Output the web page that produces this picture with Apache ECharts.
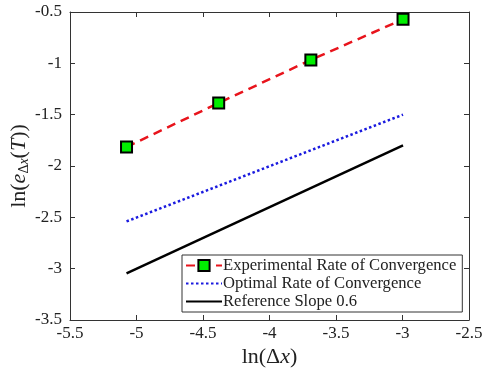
<!DOCTYPE html>
<html>
<head>
<meta charset="utf-8">
<script src="https://cdn.jsdelivr.net/npm/echarts@6/dist/echarts.min.js"></script>
<style>
  html, body { margin: 0; padding: 0; background: #fff; }
  #main { width: 484px; height: 372px; }
</style>
</head>
<body>
<div id="main"></div>
<script>
// ln(dx) for the four grids, and the measured ln(error)
const logDx = [-5.075, -4.382, -3.689, -2.996];
const experimental = [-1.815, -1.386, -0.967, -0.571];
// straight guide lines, given by their two end values
const optimalEnds = [-2.54, -1.50];
const referenceEnds = [-3.045, -1.798];
const xTicks = [-5.5, -5, -4.5, -4, -3.5, -3, -2.5];
const yTicks = [-3.5, -3, -2.5, -2, -1.5, -1, -0.5];

const serif = 'Liberation Serif';
const axisColor = '#333';
const textColor = '#222';

var chart = echarts.init(document.getElementById('main'), null, { renderer: 'canvas' });

const pair = (ends) => [[logDx[0], ends[0]], [logDx[logDx.length - 1], ends[1]]];

const baseX = {
  type: 'value', min: -5.5, max: -2.5, interval: 0.5,
  axisLine: { show: true, onZero: false, lineStyle: { color: axisColor, width: 1 } },
  axisTick: { show: true, inside: true, length: 5, lineStyle: { color: axisColor } },
  splitLine: { show: false }
};
const baseY = {
  type: 'value', min: -3.5, max: -0.5, interval: 0.5,
  axisLine: { show: true, onZero: false, lineStyle: { color: axisColor, width: 1 } },
  axisTick: { show: true, inside: true, length: 5, lineStyle: { color: axisColor } },
  splitLine: { show: false }
};

const nameRich = {
  a: { fontFamily: serif, fontSize: 22, color: textColor },
  i: { fontFamily: serif, fontSize: 22, fontStyle: 'italic', color: textColor },
  s: { fontFamily: serif, fontSize: 14, color: textColor, verticalAlign: 'bottom', padding: [10, 0, 0, 0] },
  si: { fontFamily: serif, fontSize: 14, fontStyle: 'italic', color: textColor, verticalAlign: 'bottom', padding: [10, 0, 0, 0] }
};

var option = {
  backgroundColor: '#fff',
  animation: false,
  grid: { left: 70, right: 15, top: 12, bottom: 52, containLabel: false, outerBoundsMode: 'none' },
  xAxis: [
    Object.assign({}, baseX, {
      position: 'bottom',
      axisLabel: { color: textColor, fontFamily: serif, fontSize: 17, margin: 5,
        formatter: (v) => xTicks.includes(v) ? String(v) : '' },
      name: '{a|ln(Δ}{i|x}{a|)}',
      nameLocation: 'middle', nameGap: 26, nameMoveOverlap: false,
      nameTextStyle: { rich: nameRich }
    }),
    Object.assign({}, baseX, { position: 'top', axisLabel: { show: false } })
  ],
  yAxis: [
    Object.assign({}, baseY, {
      position: 'left',
      axisLabel: { color: textColor, fontFamily: serif, fontSize: 17, margin: 8,
        formatter: (v) => yTicks.includes(v) ? String(v) : '' },
      name: '{a|ln(}{i|e}{s|Δ}{si|x}{a|(}{i|T}{a|))}',
      nameLocation: 'middle', nameGap: 39, nameRotate: 90, nameMoveOverlap: false,
      nameTextStyle: { rich: nameRich }
    }),
    Object.assign({}, baseY, { position: 'right', axisLabel: { show: false } })
  ],
  legend: {
    orient: 'vertical',
    left: 182, top: 255,
    padding: [2, 6, 2, 3],
    itemGap: 1,
    itemWidth: 36, itemHeight: 14,
    backgroundColor: '#fff',
    borderColor: '#333', borderWidth: 1,
    textStyle: { fontFamily: serif, fontSize: 16.6, color: textColor, padding: [0, 0, 0, -4] },
    data: [
      { name: 'Experimental Rate of Convergence' },
      { name: 'Optimal Rate of Convergence', itemStyle: { opacity: 0 } },
      { name: 'Reference Slope 0.6', itemStyle: { opacity: 0 } }
    ]
  },
  series: [
    {
      name: 'Experimental Rate of Convergence',
      type: 'line',
      data: logDx.map((x, i) => [x, experimental[i]]),
      symbol: 'rect', symbolSize: 11,
      itemStyle: { color: '#00ee00', borderColor: '#000', borderWidth: 2 },
      lineStyle: { color: '#e8141c', width: 2.5, type: [9, 6] },
      z: 5
    },
    {
      name: 'Optimal Rate of Convergence',
      type: 'line',
      data: pair(optimalEnds),
      showSymbol: false, symbol: 'none',
      itemStyle: { color: '#1a1adf' },
      lineStyle: { color: '#1a1adf', width: 2.5, type: [2.5, 2.5] }
    },
    {
      name: 'Reference Slope 0.6',
      type: 'line',
      data: pair(referenceEnds),
      showSymbol: false, symbol: 'none',
      itemStyle: { color: '#000' },
      lineStyle: { color: '#000', width: 2.5 }
    }
  ]
};

chart.setOption(option);
window.onresize = () => { chart.resize(); };
</script>
</body>
</html>
